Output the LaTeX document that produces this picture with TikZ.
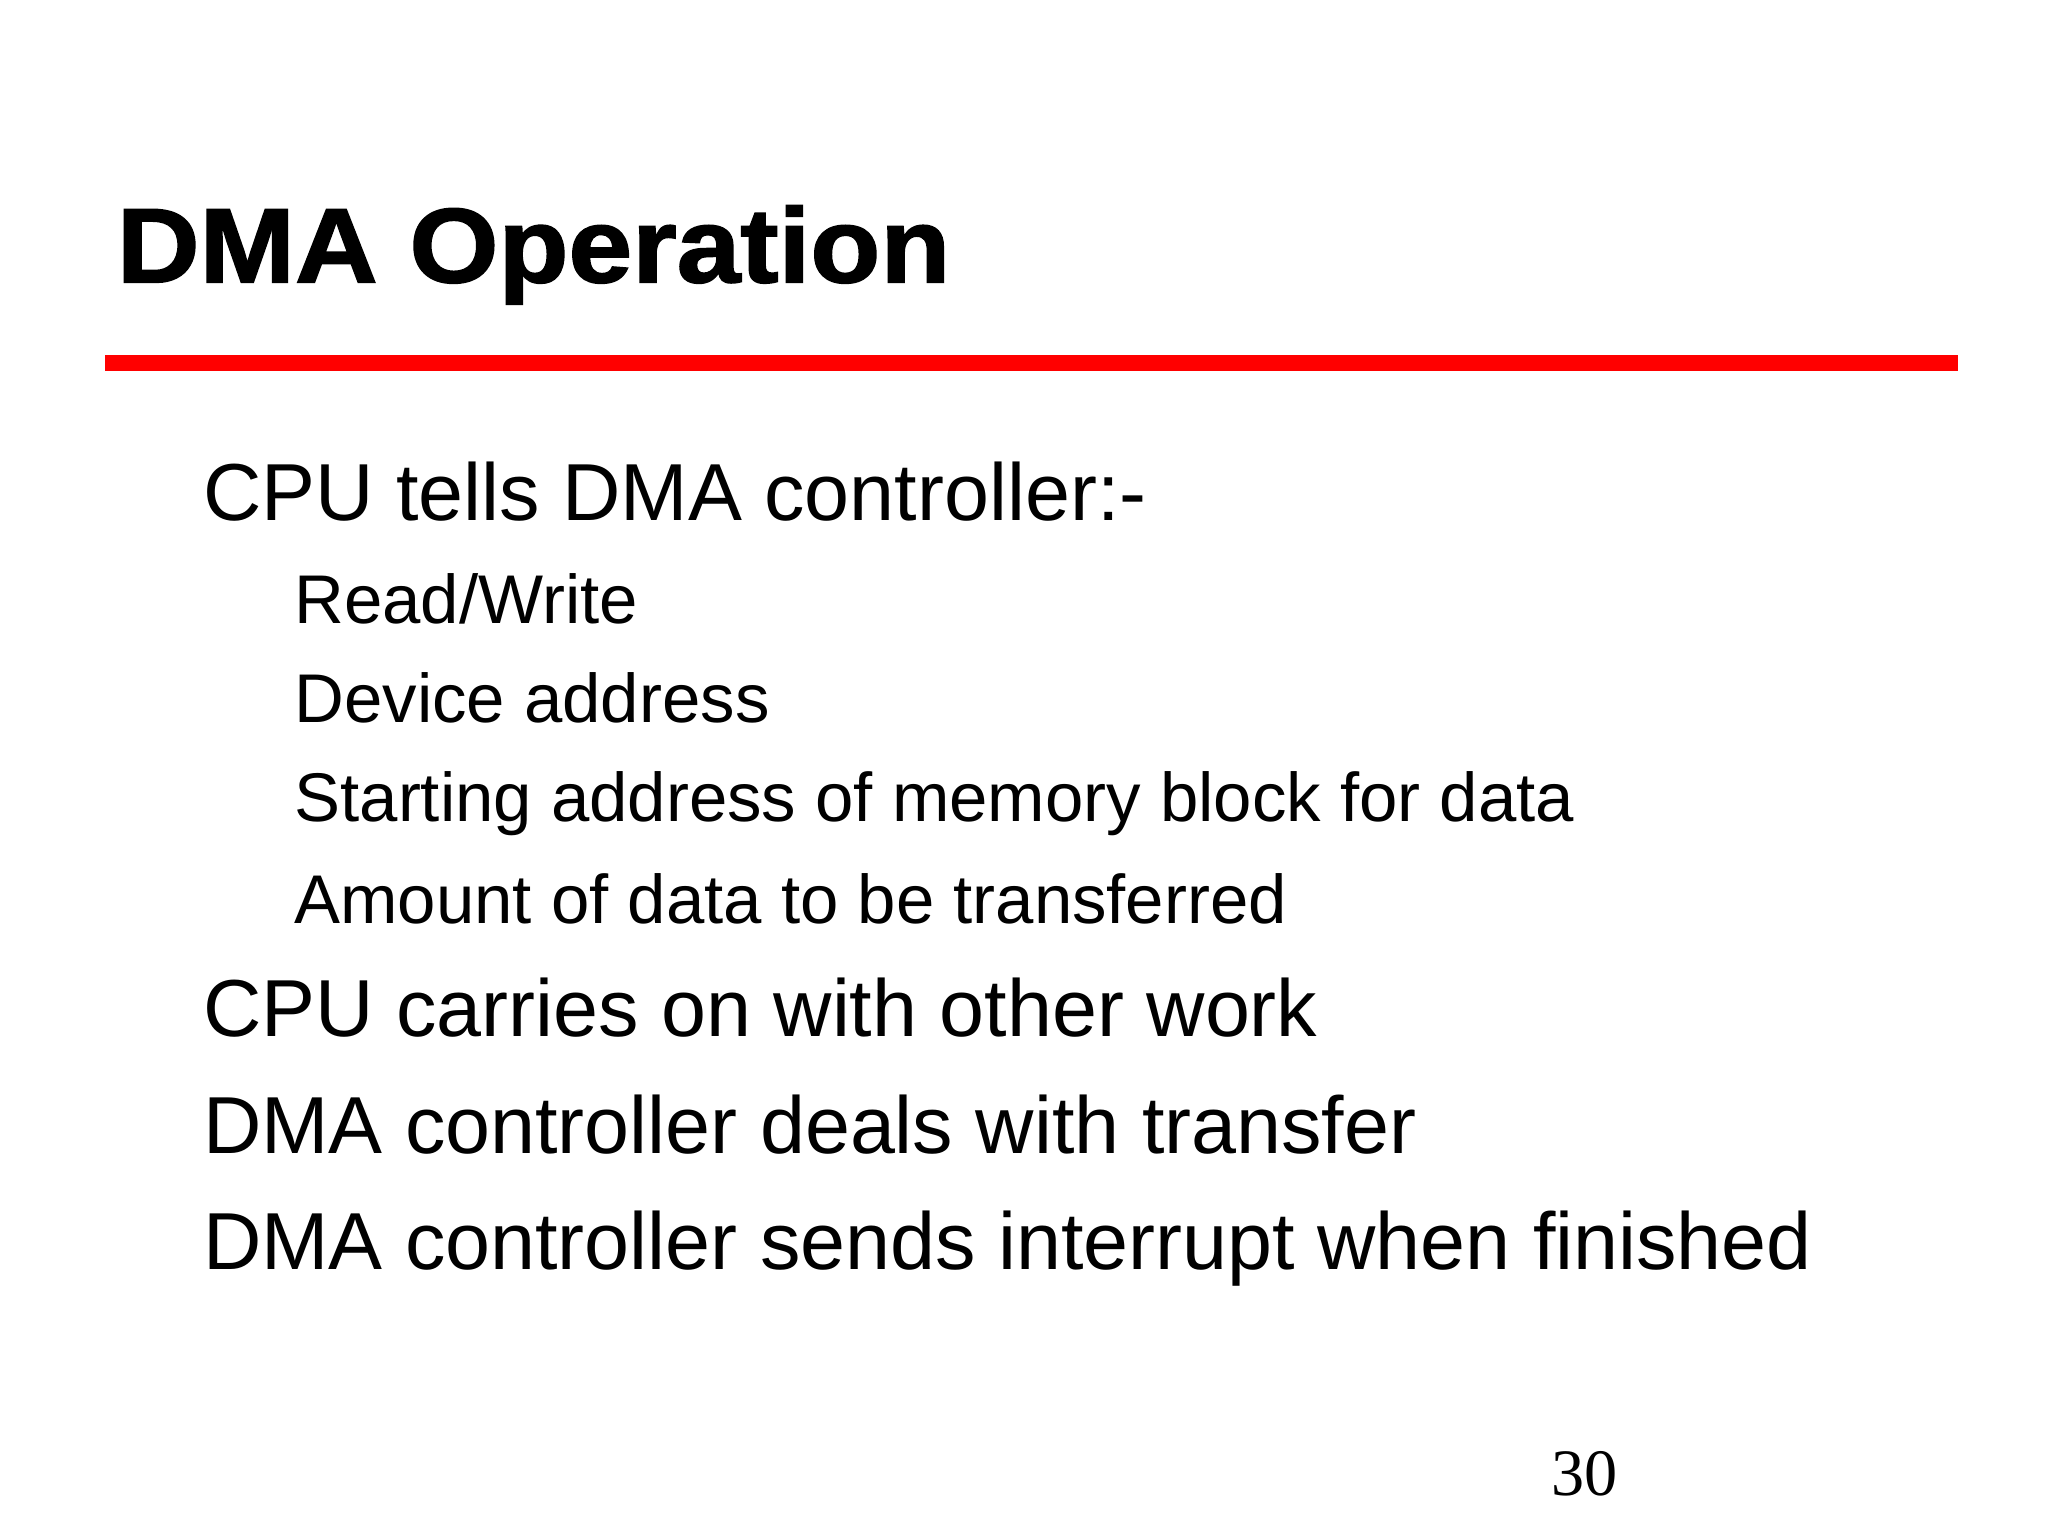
\documentclass[tikz,border=0pt]{standalone}
\usepackage{fontspec}
\setmainfont{Liberation Sans}
\newfontfamily\serifnum{Liberation Serif}
\newfontfamily\heavyfont[FakeBold=1.5]{Liberation Sans Bold}
\begin{document}
\begin{tikzpicture}[x=1pt,y=-1pt,
  titletext/.style={anchor=base west,inner sep=0pt,font=\fontsize{80}{90}\heavyfont},
  mainitem/.style={anchor=base west,inner sep=0pt,font=\fontsize{61}{68}\selectfont},
  subitem/.style={anchor=base west,inner sep=0pt,font=\fontsize{52}{58}\selectfont}]
\useasboundingbox[fill=white] (0,0) rectangle (1545,1159);
\node[titletext] (title) at (88,213) {\scalebox{1.08}[1]{DMA Operation}};
\fill[red] (79,268) rectangle (1477,280);
\node[mainitem] (m1) at (153,393) {CPU tells DMA controller:-};
\node[subitem] (s1) at (222,470) {Read/Write};
\node[subitem] (s2) at (222,545) {Device address};
\node[subitem] (s3) at (222,620) {Starting address of memory block for data};
\node[subitem] (s4) at (222,697) {Amount of data to be transferred};
\node[mainitem] (m2) at (153,782) {CPU carries on with other work};
\node[mainitem] (m3) at (153,870) {DMA controller deals with transfer};
\node[mainitem] (m4) at (153,958) {DMA controller sends interrupt when finished};
\node[anchor=base west,inner sep=0pt,font=\serifnum\fontsize{50}{56}\selectfont] (pg) at (1170,1128) {30};
\end{tikzpicture}
\end{document}
